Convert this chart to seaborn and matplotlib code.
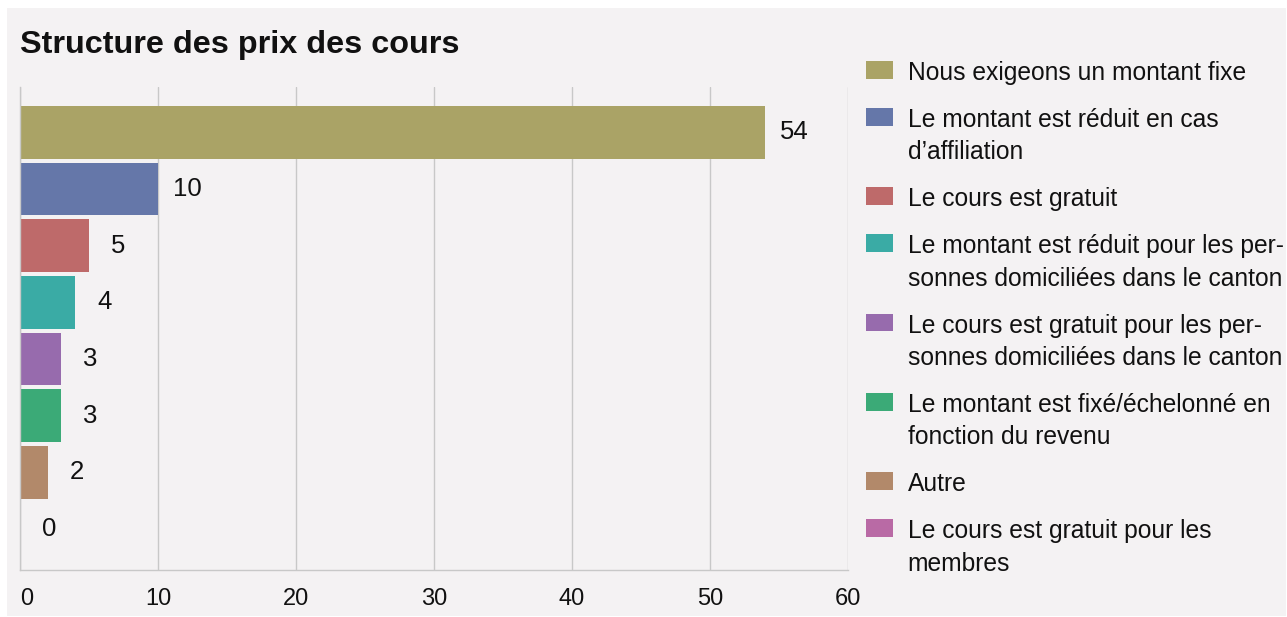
import pandas as pd
import seaborn as sns
import matplotlib.pyplot as plt
from matplotlib.patches import Rectangle

sns.set_style('white')
plt.rcParams['font.family'] = ['Liberation Sans', 'DejaVu Sans']

# categories (legend text keeps the line breaks of the original)
categories = [
    "Nous exigeons un montant fixe",
    "Le montant est réduit en cas\nd’affiliation",
    "Le cours est gratuit",
    "Le montant est réduit pour les per-\nsonnes domiciliées dans le canton",
    "Le cours est gratuit pour les per-\nsonnes domiciliées dans le canton",
    "Le montant est fixé/échelonné en\nfonction du revenu",
    "Autre",
    "Le cours est gratuit pour les\nmembres",
]
counts = [54, 10, 5, 4, 3, 3, 2, 0]
colors = ["#aaa366", "#6577a9", "#be6a6a", "#3aaba5",
          "#976bad", "#3baa77", "#b2896a", "#b96aa5"]
x_ticks = [0, 10, 20, 30, 40, 50, 60]

df = pd.DataFrame({'Category': categories, 'Count': counts})

W, H = 1287, 617
fig = plt.figure(figsize=(W / 100, H / 100), dpi=100, facecolor='white')
# light panel behind everything
fig.patches.append(Rectangle((7 / W, 1 - 616 / H), (1286 - 7) / W, (616 - 8) / H,
                             transform=fig.transFigure, facecolor='#f4f2f3',
                             edgecolor='none', zorder=-10))

ax = fig.add_axes([20 / W, 1 - 570 / H, (848 - 20) / W, (570 - 87) / H])
ax.set_facecolor('none')

sns.barplot(data=df, x='Count', y='Category', hue='Category', palette=colors,
            orient='h', dodge=False, width=0.93, saturation=1, legend=True,
            linewidth=0, ax=ax)

ax.set_xlim(0, 60)
ax.set_ylim(7.72, -0.80)
ax.set_xticks(x_ticks)
ax.set_xticklabels([str(t) for t in x_ticks])
ax.set_yticks([])
ax.set_xlabel('')
ax.set_ylabel('')

ax.grid(axis='x', color='#c8c8c8', linewidth=1)
ax.set_axisbelow(True)
for s in ['top', 'right']:
    ax.spines[s].set_visible(False)
for s in ['left', 'bottom']:
    ax.spines[s].set_color('#c8c8c8')
    ax.spines[s].set_linewidth(1)
ax.tick_params(axis='x', length=7, width=1, color='#c8c8c8', pad=6,
               labelsize=17, labelcolor='#111111')
for lbl in ax.get_xticklabels():
    lbl.set_fontweight('light')
ax.get_xticklabels()[0].set_horizontalalignment('left')
ax.get_xticklabels()[0].set_x(-0.2)

# value labels
for i, v in enumerate(counts):
    ax.annotate(str(v), xy=(v, i), xytext=(29, 0), textcoords='offset pixels',
                ha='center', va='center', fontsize=18.5, color='#111111')

fig.text(20 / W, 1 - 45 / H, "Structure des prix des cours", fontsize=23.3,
         fontweight='bold', ha='left', va='center', color='#111111')

# legend
handles, labels = ax.get_legend_handles_labels()
ax.get_legend().remove()
leg = fig.legend(handles, labels, loc='upper left',
                 bbox_to_anchor=(866 / W, 1 - 61 / H), bbox_transform=fig.transFigure,
                 frameon=False, fontsize=17.7, borderpad=0, borderaxespad=0,
                 handlelength=1.1, handleheight=0.73, handletextpad=0.6,
                 labelspacing=0.935)
for t in leg.get_texts():
    t.set_linespacing(1.44)
    t.set_color('#111111')
for col in leg._legend_handle_box.get_children():
    for row in col.get_children():
        row.align = 'top'

fig.savefig('out.png', dpi=100, facecolor='white')
